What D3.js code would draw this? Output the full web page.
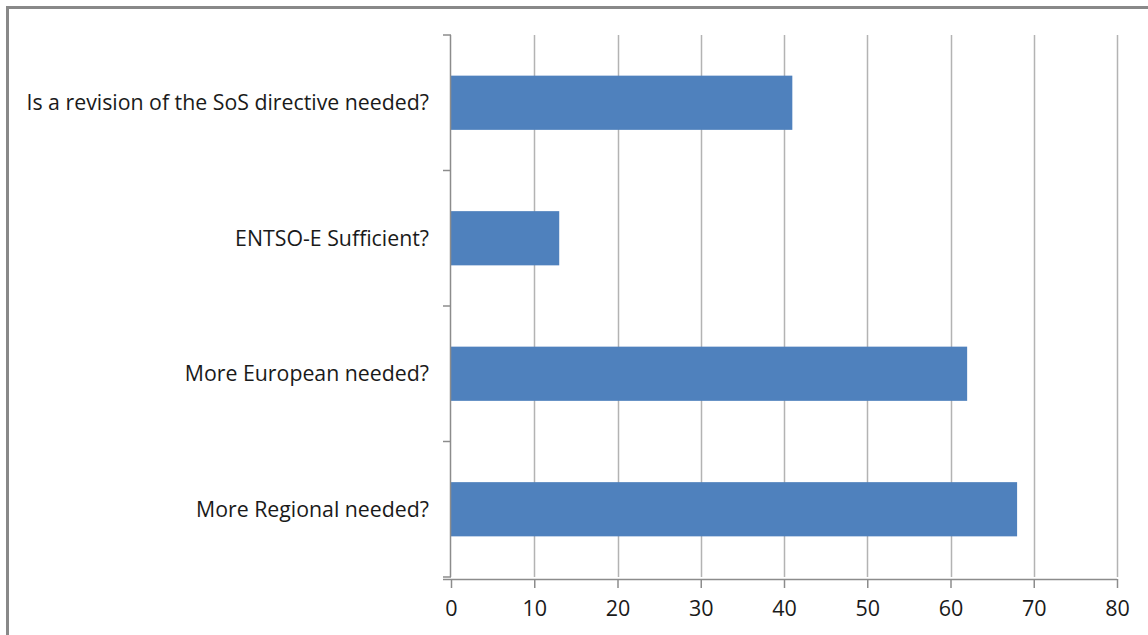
<!DOCTYPE html>
<html>
<head>
<meta charset="utf-8">
<script src="https://cdn.jsdelivr.net/npm/d3@7"></script>
<style>
  body { margin: 0; background: #fff; }
  svg { display: block; }
</style>
</head>
<body>
<div id="chart"></div>
<script>
const categories = [
  "Is a revision of the SoS directive needed?",
  "ENTSO-E Sufficient?",
  "More European needed?",
  "More Regional needed?"
];
const values = [41, 13, 62, 68];
const xTicks = [0, 10, 20, 30, 40, 50, 60, 70, 80];

const width = 1148, height = 635;
const margin = {left: 451, right: 31, top: 35, bottom: 58};

const svg = d3.select("#chart").append("svg")
  .attr("width", width)
  .attr("height", height);

// outer chart frame (only left and top show in the picture)
svg.append("rect")
  .attr("x", 7.5).attr("y", 7.5)
  .attr("width", width).attr("height", height)
  .attr("fill", "white")
  .attr("stroke", "#898989")
  .attr("stroke-width", 3);

const x = d3.scaleLinear()
  .domain([0, 80])
  .range([margin.left, width - margin.right]);

const y = d3.scaleBand()
  .domain(categories)
  .range([margin.top, height - margin.bottom])
  .paddingInner(0.6)
  .paddingOuter(0.3);

// vertical grid lines
svg.append("g")
  .selectAll("line")
  .data(xTicks.slice(1))
  .join("line")
  .attr("x1", d => Math.round(x(d)) + 0.5)
  .attr("x2", d => Math.round(x(d)) + 0.5)
  .attr("y1", margin.top)
  .attr("y2", height - margin.bottom)
  .attr("stroke", "#b3b3b3")
  .attr("stroke-width", 1.5);

// bars
svg.append("g")
  .selectAll("rect")
  .data(values)
  .join("rect")
  .attr("x", x(0))
  .attr("y", (d, i) => y(categories[i]))
  .attr("width", d => x(d) - x(0))
  .attr("height", y.bandwidth())
  .attr("fill", "#4f81bd");

// y axis
const step = (height - margin.bottom - margin.top) / categories.length;
const yAxis = svg.append("g");
yAxis.append("line")
  .attr("x1", margin.left - 0.5).attr("x2", margin.left - 0.5)
  .attr("y1", margin.top).attr("y2", height - margin.bottom)
  .attr("stroke", "#8c8c8c").attr("stroke-width", 1.5);
yAxis.selectAll("line.tick")
  .data(d3.range(categories.length + 1))
  .join("line")
  .attr("class", "tick")
  .attr("x1", margin.left - 8).attr("x2", margin.left)
  .attr("y1", i => margin.top + i * step)
  .attr("y2", i => margin.top + i * step)
  .attr("stroke", "#8c8c8c").attr("stroke-width", 1.5);
yAxis.selectAll("text")
  .data(categories)
  .join("text")
  .attr("x", margin.left - 22)
  .attr("y", d => y(d) + y.bandwidth() / 2)
  .attr("dy", "0.35em")
  .attr("text-anchor", "end")
  .attr("font-family", "'Open Sans', sans-serif")
  .attr("font-size", 21.3)
  .attr("fill", "#1a1a1a")
  .text(d => d);

// x axis
const xAxis = svg.append("g")
  .attr("transform", `translate(0,${height - margin.bottom + 2})`)
  .call(d3.axisBottom(x).tickValues(xTicks).tickSize(9).tickSizeOuter(0).tickPadding(13));
xAxis.select(".domain")
  .attr("d", `M${margin.left - 8},0.5H${width - margin.right}`)
  .attr("stroke", "#8c8c8c").attr("stroke-width", 1.5);
xAxis.selectAll(".tick line").attr("stroke", "#8c8c8c").attr("stroke-width", 1.5);
xAxis.selectAll(".tick text")
  .attr("font-family", "'Open Sans', sans-serif")
  .attr("font-size", 21.5)
  .attr("fill", "#1a1a1a");
</script>
</body>
</html>
